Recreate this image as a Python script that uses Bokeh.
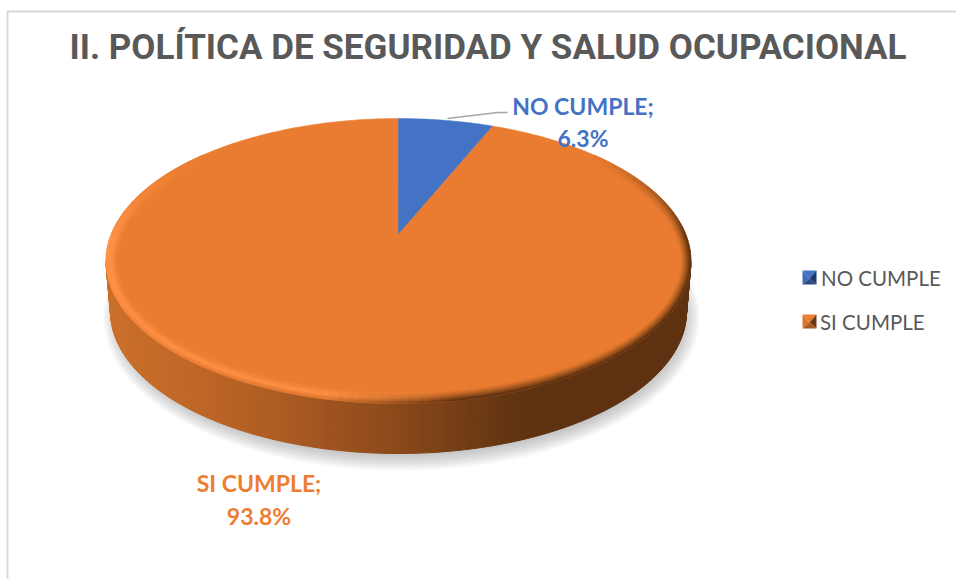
import numpy as np
from bokeh.plotting import figure
from bokeh.models import Range1d
from bokeh.core.properties import value
from bokeh.embed import file_html
from bokeh.resources import INLINE

title = "II. POLÍTICA DE SEGURIDAD Y SALUD OCUPACIONAL"
categories = ["NO CUMPLE", "SI CUMPLE"]
values = [6.3, 93.8]
pct_labels = ["6.3%", "93.8%"]
colors = ["#4472C4", "#E97C30"]

W, H = 956, 579
p = figure(width=W, height=H, output_backend="svg", toolbar_location=None,
           x_range=Range1d(0, W), y_range=Range1d(H, 0),
           min_border=0, outline_line_color=None, background_fill_color="white")
p.axis.visible = False
p.grid.visible = False

# geometry of the tilted pie
cx, cy, rx, ry = 398.0, 260.5, 292.5, 142.5
apex_y = 233.0
top_d, bot_d = apex_y - (cy - ry), (cy + ry) - apex_y
k = (bot_d - top_d) / (bot_d + top_d)
b = top_d * (1 + k)
a = rx * np.sqrt(1 - k * k)


def project(ang):
    """Clockwise angle from 12 o'clock on the disc to picture coordinates."""
    u, v = np.sin(ang), np.cos(ang)
    d = 1 + k * v
    return cx + a * u / d, apex_y - b * v / d


def mix(c1, c2, t):
    return tuple(c1[i] + (c2[i] - c1[i]) * t for i in range(3))


def hexc(c):
    return "#%02x%02x%02x" % tuple(int(round(min(255, max(0, x)))) for x in c)


FACE = (233, 124, 48)
HI = (255, 146, 70)
LOWEDGE = (222, 116, 44)
DARK = (94, 50, 16)

# soft shadow
for i in range(10):
    t = np.linspace(0, 2 * np.pi, 160)
    grow = 12 - i * 1.8
    p.patch(401 + (286 + grow) * np.cos(t), 317 + (141 + grow) * np.sin(t),
            fill_color="#707070", fill_alpha=0.05, line_color=None)

# side wall
cx2, cy2, rx2, ry2 = 398.0, 311.0, 288.0, 142.0
phis = np.linspace(np.pi, 0, 161)
xs, ys, cs = [], [], []
for p0, p1 in zip(phis[:-1], phis[1:]):
    xs.append([cx + rx * np.cos(p0), cx + rx * np.cos(p1), cx2 + rx2 * np.cos(p1), cx2 + rx2 * np.cos(p0)])
    ys.append([cy + ry * np.sin(p0), cy + ry * np.sin(p1), cy2 + ry2 * np.sin(p1), cy2 + ry2 * np.sin(p0)])
    xm = cx + rx * np.cos((p0 + p1) / 2)
    cs.append(hexc((np.interp(xm, [105, 200, 290, 400, 500, 530, 690], [203, 190, 170, 138, 102, 94, 94]),
                    np.interp(xm, [105, 200, 290, 400, 500, 530, 690], [112, 102, 90, 72, 54, 50, 50]),
                    np.interp(xm, [105, 200, 290, 400, 500, 530, 690], [42, 38, 34, 26, 18, 16, 16]))))
p.patches(xs, ys, fill_color=cs, line_color=cs, line_width=1)

# top face, one slice per value
total = sum(values)
starts = np.cumsum([0] + values[:-1]) / total * 2 * np.pi
ends = np.cumsum(values) / total * 2 * np.pi
slices = []
for s, e in zip(starts, ends):
    t = np.linspace(s, e, max(4, int((e - s) * 60)))
    x, y = project(t)
    slices.append((np.r_[cx, x], np.r_[apex_y, y]))

# orange slice first, rim over it, blue slice last
p.patch(slices[1][0], slices[1][1], fill_color=colors[1], line_color=colors[1], line_width=0.5)

# bevelled rim
N = 180
F = 10
BW = 13.0
th = np.linspace(0, 2 * np.pi, N + 1)
xs, ys, cs = [], [], []
for i in range(N):
    t0, t1 = th[i], th[i + 1]
    tm = (t0 + t1) / 2
    sn = -np.sin(tm)  # up is positive in the picture
    cs_t = np.cos(tm)
    g = np.clip((0.75 - sn) / 0.6, 0, 1)
    L = np.clip((0.2 - cs_t) / 0.45, 0, 1)
    if g <= 0:
        continue
    low = np.clip(-sn, 0, 1)
    for j in range(F):
        f0, f1 = j / F, (j + 1) / F
        fm = (f0 + f1) / 2
        d0, d1 = BW * (1 - f0), BW * (1 - f1)
        if fm < 0.62:
            lit = mix(FACE, HI, (fm / 0.62) ** 1.5)
        else:
            lit = mix(HI, mix(HI, LOWEDGE, low), (fm - 0.62) / 0.38)
        dk = mix(FACE, DARK, np.clip((fm - 0.2) / 0.75, 0, 1) ** 1.3)
        c = mix(FACE, mix(dk, lit, L), g)
        xs.append([cx + (rx - d0) * np.cos(t0), cx + (rx - d0) * np.cos(t1),
                   cx + (rx - d1) * np.cos(t1), cx + (rx - d1) * np.cos(t0)])
        ys.append([cy + (ry - d0) * np.sin(t0), cy + (ry - d0) * np.sin(t1),
                   cy + (ry - d1) * np.sin(t1), cy + (ry - d1) * np.sin(t0)])
        cs.append(hexc(c))
p.patches(xs, ys, fill_color=cs, line_color=cs, line_width=0.7)

p.patch(slices[0][0], slices[0][1], fill_color=colors[0], line_color=colors[0], line_width=0.5)

# chart-area border
p.line([7, 7, 956], [579, 11, 11], line_color="#D9D9D9", line_width=2)

# leader line
p.line([447, 497, 507], [118, 112, 112], line_color="#A6A6A6", line_width=1.5)

# title
p.text([487.5], [47], text=[title], text_font=value("Roboto"), text_font_style="bold",
       text_font_size="35px", text_color="#595959", text_align="center", text_baseline="middle")

# data labels
lab_font = value("Lato")
lab_pos = [(582.5, 105, 137.5), (258.5, 482, 515.5)]
for cat, pct, col, (lx, y1, y2) in zip(categories, pct_labels, ["#4472C4", "#ED7D31"], lab_pos):
    p.text([lx], [y1], text=[cat + ";"], text_font=lab_font, text_font_style="bold", text_font_size="23px",
           text_color=col, text_align="center", text_baseline="middle")
    p.text([lx], [y2], text=[pct], text_font=lab_font, text_font_style="bold", text_font_size="23px",
           text_color=col, text_align="center", text_baseline="middle")

# legend
leg_shades = [
    {"t": "#4472C4", "l": "#3F6CBC", "r": "#1F3A6E", "b": "#2C4C88"},
    {"t": "#ED7D31", "l": "#D8762E", "r": "#6E3A12", "b": "#A85A20"},
]
for cat, sh, ly, tx in zip(categories, leg_shades, [277, 321], [820.5, 819.5]):
    x0, x1, y0, y1 = 802, 816, ly - 7, ly + 7
    mx, my = (x0 + x1) / 2, ly + 1
    p.patches([[x0, x1, mx], [x0, mx, x0], [x1, x1, mx], [x0, x1, mx]],
              [[y0, y0, my], [y0, my, y1], [y0, y1, my], [y1, y1, my]],
              fill_color=[sh["t"], sh["l"], sh["r"], sh["b"]], line_color=None)
    p.text([tx], [ly], text=[cat], text_font=lab_font, text_font_size="20.5px", text_color="#595959",
           text_align="left", text_baseline="middle")

open("out.html", "w").write(file_html(p, INLINE))
